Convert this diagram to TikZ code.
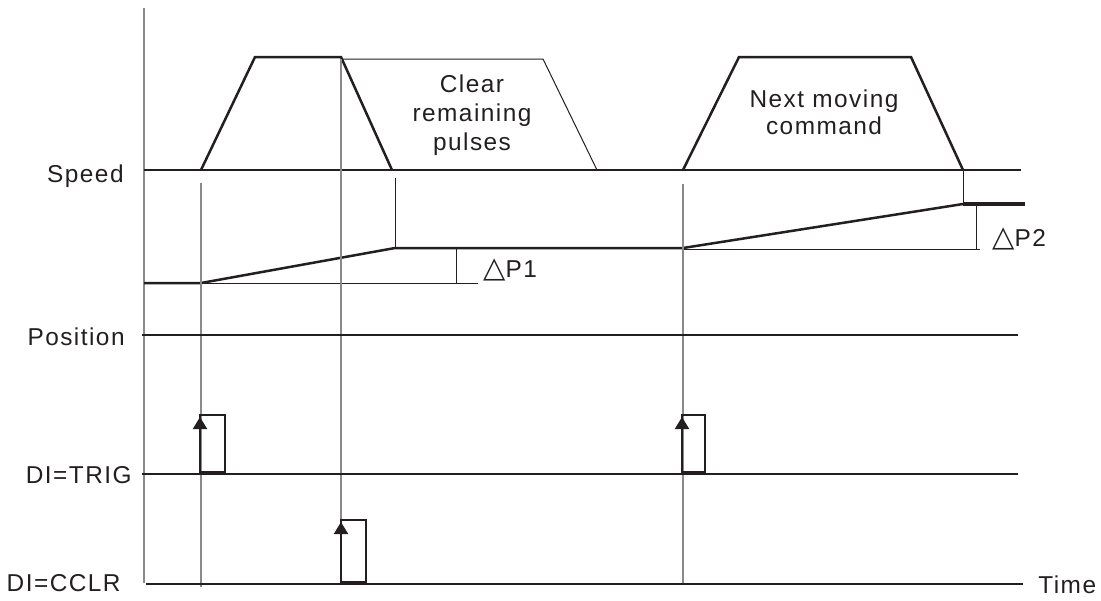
\documentclass[tikz,border=0pt]{standalone}
\usepackage{fontspec}
\setmainfont{Liberation Sans}[LetterSpace=6]
\newfontfamily\symfont{DejaVu Sans}
\usetikzlibrary{arrows.meta}
\definecolor{ink}{HTML}{231F20}
\definecolor{guidegray}{HTML}{8A8A8A}
\begin{document}
\begin{tikzpicture}[x=0.5pt,y=-0.5pt,
  thickline/.style={draw=ink, line width=1.25pt},
  thinline/.style={draw=ink, line width=0.5pt},
  guide/.style={draw=guidegray, line width=0.55pt},
  lbl/.style={font=\fontsize{12.2}{14}\selectfont, text=ink, inner sep=0pt},
  pulsebox/.style={draw=ink, line width=0.7pt},
  trig/.style={draw=ink, line width=1pt, -{Triangle[length=6pt,width=7pt]}}]
\useasboundingbox (0,0) rectangle (1101,600);

% axis
\draw[guide] (144,8) -- (144,583);

% speed baseline and trapezoids
\draw[thickline] (144,170) -- (1021,170);
\draw[thickline] (201,170) -- (255,57) -- (341,57) -- (392,170);
\draw[thinline] (341,59) -- (543,59) -- (597,170);
\draw[thickline] (683,170) -- (739,57) -- (911,57) -- (963,170);

% position curve
\draw[thickline] (144,283) -- (201,283) -- (395,248) -- (683,248);
\draw[thickline] (683,248) -- (963,204);
\draw[line width=2.2pt, draw=ink] (963,204) -- (1025,204);
\draw[thinline] (395,178) -- (395,248);
\draw[thinline] (963,170) -- (963,204);

% delta P1 / P2
\draw[thinline] (201,283) -- (478,283);
\draw[thinline] (456,248) -- (456,283);
\draw[thinline] (683,249) -- (980,249);
\draw[thinline] (976,204) -- (976,249);

% guide verticals
\draw[guide] (201,183) -- (201,587);
\draw[guide] (341,59) -- (341,520);
\draw[guide] (683,184) -- (683,584);

% signal lines
\draw[thickline] (142,335) -- (1018,335);
\draw[thickline] (142,474) -- (1018,474);
\draw[thickline] (146,584) -- (1023,584);

% pulses
\draw[pulsebox] (200,472) rectangle (225,415);
\draw[trig] (200,472) -- (200,417);
\draw[pulsebox] (341,582) rectangle (366,520);
\draw[trig] (341,582) -- (341,522);
\draw[pulsebox] (682,472) rectangle (705,415);
\draw[trig] (682,472) -- (682,417);

% labels
\node[lbl, anchor=base east] (speed) at (124,182) {Speed};
\node[lbl, anchor=base east] (position) at (125,345) {Position};
\node[lbl, anchor=base east] (trigl) at (132,483) {DI=TRIG};
\node[lbl, anchor=base east] (cclrl) at (121,591) {DI=CCLR};
\node[lbl, anchor=base west] (time) at (1038,593) {Time};

\node[lbl, anchor=base] (clear1) at (472,92) {Clear};
\node[lbl, anchor=base] (clear2) at (472,121) {remaining};
\node[lbl, anchor=base] (clear3) at (472,150) {pulses};
\node[lbl, anchor=base] (next1) at (824,107) {Next moving};
\node[lbl, anchor=base] (next2) at (824,134) {command};

\node[lbl, anchor=base west] (dp1) at (483,277) {{\symfont\fontsize{14.5}{14}\selectfont △}P1};
\node[lbl, anchor=base west] (dp2) at (992,246) {{\symfont\fontsize{14.5}{14}\selectfont △}P2};
\end{tikzpicture}
\end{document}
